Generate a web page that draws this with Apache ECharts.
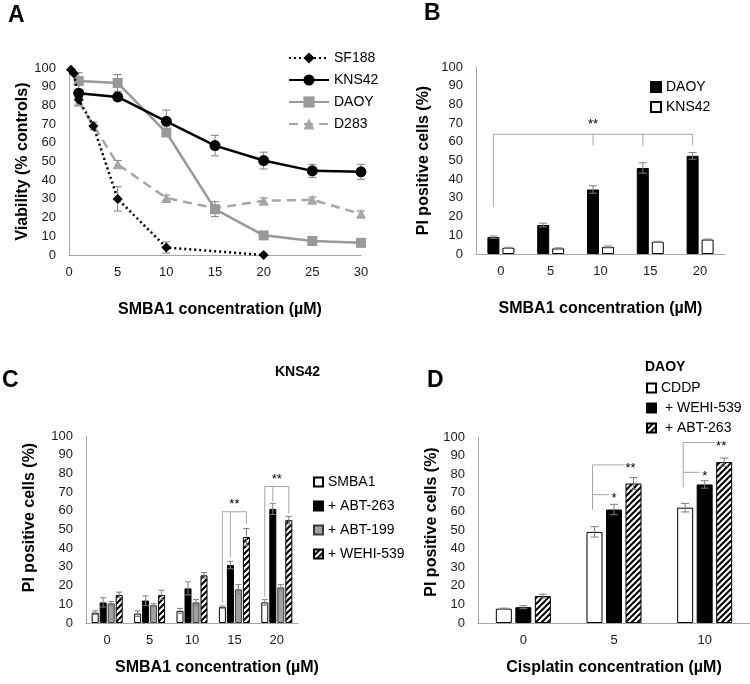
<!DOCTYPE html>
<html><head><meta charset="utf-8">
<script src="https://cdn.jsdelivr.net/npm/echarts@6/dist/echarts.min.js"></script>
<style>html,body{margin:0;padding:0;background:#fff;}.p{position:absolute;left:0;top:0;width:750px;height:684px;}</style>
</head><body>
<div id="ca" class="p"></div><div id="cb" class="p"></div><div id="cc" class="p"></div><div id="cd" class="p"></div>
<script>
// ---------- Panel A data ----------
const aSF188X = [0.2, 0.5, 1, 2.5, 5, 10, 20];
const aSF188Y = [99, 97, 83, 69, 30, 4, 0];
const aSF188Err = [0, 0, 0, 2, 6.5, 3, 0];
const aConc = [1, 5, 10, 15, 20, 25, 30];
const aKNS42 = [86.5, 84.5, 71.5, 58.5, 50.5, 45, 44.5];
const aKNS42Err = [1.5, 2, 6, 5.5, 4.5, 3.5, 4];
const aDAOY = [93, 92, 65.5, 24.5, 10.5, 7.5, 6.5];
const aDAOYErr = [4.5, 4.5, 2, 4, 1, 1, 1];
const aD283 = [82, 48.5, 30.5, 25, 29, 29.5, 22];
const aD283Err = [2, 2, 1.5, 1, 1.5, 1.5, 1.5];
// ---------- Panel B data ----------
const bCats = ['0', '5', '10', '15', '20'];
const bDAOY = [9, 15.5, 34.5, 46, 52.5];
const bDAOYErr = [0.6, 1, 2, 2.8, 1.8];
const bKNS42 = [3.3, 3, 3.8, 6.5, 7.7];
const bKNS42Err = [0.3, 0.3, 0.5, 0.3, 0.3];
const bSigFrom = 0, bSigTo = 4, bSigLevel = 64, bSigBase = 25, bSigDropTo = 58;
const bSigDrops = [2, 3, 4];
// ---------- Panel C data ----------
const cCats = ['0', '5', '10', '15', '20'];
const cSMBA1 = [5.5, 5, 6.5, 8.5, 11];
const cSMBA1Err = [1, 1.5, 1.3, 0.6, 1.5];
const cABT263 = [11, 12, 18.5, 31, 61];
const cABT263Err = [2.5, 2.5, 3.5, 2, 3];
const cABT199 = [10.5, 9.5, 11, 18, 19];
const cABT199Err = [1, 0.8, 1.5, 2.5, 1.5];
const cWEHI539 = [15, 15, 25.5, 46, 55];
const cWEHI539Err = [1.5, 2.5, 1.5, 4.5, 2];
const cSigCats = [3, 4];
const cSigLevel = [59.5, 73];
const cSigBase = [11, 14];
const cSigMid = [35, 65];
const cSigRight = [53, 58.5];
// ---------- Panel D data ----------
const dCats = ['0', '5', '10'];
const dCDDP = [7.7, 49, 62];
const dCDDPErr = [0.3, 2.8, 2.3];
const dWEHI539 = [8.5, 61, 74.5];
const dWEHI539Err = [0.8, 2.8, 2];
const dABT263 = [14.5, 75, 86.5];
const dABT263Err = [1, 3.2, 2.2];
const dSigCats = [1, 2];
const dSigBase = [61, 73];
const dSigMid = [69, 81];
const dSigTop = [85, 97];

const FONT = '"Liberation Sans", Arial, sans-serif';
const AX = '#a6a6a6', ERR = '#7f7f7f', BR = '#a6a6a6', TXT = '#1a1a1a';

function hatch() {
  const c = document.createElement('canvas'); c.width = 6; c.height = 6;
  const g = c.getContext('2d'); g.fillStyle = '#fff'; g.fillRect(0, 0, 6, 6);
  g.strokeStyle = '#000'; g.lineWidth = 2; g.beginPath();
  g.moveTo(-1, 7); g.lineTo(7, -1);
  g.moveTo(-4, 4); g.lineTo(4, -4);
  g.moveTo(2, 10); g.lineTo(10, 2);
  g.stroke();
  return c;
}
const HATCH = { image: hatch(), repeat: 'repeat' };

function offsets(n, w, g) { const a = []; for (let i = 0; i < n; i++) a.push((i - (n - 1) / 2) * (w + g)); return a; }

function valueY(name, gap, pad) {
  return { type: 'value', min: 0, max: 100, interval: 10,
    axisLine: { show: true, lineStyle: { color: AX, width: 1 } }, axisTick: { show: false }, splitLine: { show: false },
    axisLabel: { fontSize: 13, color: TXT, margin: 13, fontFamily: FONT },
    name: name, nameLocation: 'middle', nameGap: gap,
    nameTextStyle: { fontSize: 16, fontWeight: 'bold', color: '#000', fontFamily: FONT, padding: pad || 0 } };
}
function catX(cats, name, gap, pad) {
  return { type: 'category', data: cats,
    axisLine: { show: true, lineStyle: { color: AX, width: 1 } }, axisTick: { show: false }, splitLine: { show: false },
    axisLabel: { fontSize: 13, color: TXT, margin: 11, fontFamily: FONT },
    name: name, nameLocation: 'middle', nameGap: gap,
    nameTextStyle: { fontSize: 16, fontWeight: 'bold', color: '#000', fontFamily: FONT, padding: pad || 0 } };
}
function letter(t, l, tp) {
  return { text: t, left: l, top: tp, padding: 0, textStyle: { fontSize: 23, fontWeight: 'bold', color: '#000', fontFamily: FONT } };
}
function barErr(rows, offs, cap) {
  const data = [];
  rows.forEach(function (r) { r[1].forEach(function (v, i) { data.push([i, v, r[2][i], r[0]]); }); });
  return { type: 'custom', z: 10, silent: true, clip: false, encode: { x: 0, y: 1 }, data: data,
    renderItem: function (p, api) {
      const i = api.value(0), v = api.value(1), e = api.value(2), k = api.value(3);
      const t = api.coord([i, v + e]), b = api.coord([i, v - e]);
      const x = t[0] + offs[k];
      const s = { stroke: ERR, lineWidth: 1 };
      return { type: 'group', children: [
        { type: 'line', shape: { x1: x, y1: t[1], x2: x, y2: b[1] }, style: s },
        { type: 'line', shape: { x1: x - cap, y1: t[1], x2: x + cap, y2: t[1] }, style: s },
        { type: 'line', shape: { x1: x - cap, y1: b[1], x2: x + cap, y2: b[1] }, style: s }] };
    } };
}
function ln(x1, y1, x2, y2) { return { type: 'line', shape: { x1: x1, y1: y1, x2: x2, y2: y2 }, style: { stroke: BR, lineWidth: 1 } }; }
function star(t, x, y, va) { return { type: 'text', style: { text: t, x: x, y: y, textAlign: 'center', textVerticalAlign: va || 'bottom', fontSize: 13, fill: '#000', fontFamily: FONT } }; }
const LEG_TXT = { fontSize: 14, color: '#000', lineHeight: 16, fontFamily: FONT };

// ================= Panel A =================
const cA = echarts.init(document.getElementById('ca'), null, { renderer: 'canvas' });
const aErrData = [];
aSF188X.forEach(function (x, i) { if (aSF188Err[i] > 0) aErrData.push([x, aSF188Y[i], aSF188Err[i]]); });
aConc.forEach(function (x, i) {
  aErrData.push([x, aKNS42[i], aKNS42Err[i]]);
  aErrData.push([x, aDAOY[i], aDAOYErr[i]]);
  aErrData.push([x, aD283[i], aD283Err[i]]);
});
function pairs(xs, ys) { return xs.map(function (x, i) { return [x, ys[i]]; }); }
cA.setOption({
  animation: false, backgroundColor: 'transparent', textStyle: { fontFamily: FONT },
  title: [letter('A', 8, 4)],
  legend: { orient: 'vertical', left: 288, top: 50, padding: 0, itemWidth: 40, itemHeight: 14, itemGap: 6,
    textStyle: LEG_TXT, data: ['SF188', 'KNS42', 'DAOY', 'D283'] },
  grid: { left: 69, top: 68, width: 292, height: 187 },
  xAxis: { type: 'value', min: 0, max: 30, interval: 5,
    axisLine: { show: true, lineStyle: { color: AX } }, axisTick: { show: false }, splitLine: { show: false },
    axisLabel: { fontSize: 13, color: TXT, margin: 11, fontFamily: FONT },
    name: 'SMBA1 concentration (µM)', nameLocation: 'middle', nameGap: 47,
    nameTextStyle: { fontSize: 16, fontWeight: 'bold', color: '#000', fontFamily: FONT, padding: [0, 0, 0, 10] } },
  yAxis: valueY('Viability (% controls)', 31),
  series: [
    { type: 'custom', z: 1, silent: true, clip: false, encode: { x: 0, y: 1 }, data: aErrData,
      renderItem: function (p, api) {
        const x = api.value(0), v = api.value(1), e = api.value(2);
        const t = api.coord([x, v + e]), b = api.coord([x, v - e]);
        const s = { stroke: ERR, lineWidth: 1 }, c = 4;
        return { type: 'group', children: [
          { type: 'line', shape: { x1: t[0], y1: t[1], x2: t[0], y2: b[1] }, style: s },
          { type: 'line', shape: { x1: t[0] - c, y1: t[1], x2: t[0] + c, y2: t[1] }, style: s },
          { type: 'line', shape: { x1: t[0] - c, y1: b[1], x2: t[0] + c, y2: b[1] }, style: s }] };
      } },
    { name: 'D283', type: 'line', z: 3, data: pairs(aConc, aD283), symbol: 'triangle', symbolSize: 10,
      lineStyle: { color: '#a6a6a6', width: 2.5, type: [9, 6] }, itemStyle: { color: '#a6a6a6' } },
    { name: 'DAOY', type: 'line', z: 4, data: pairs(aConc, aDAOY), symbol: 'rect', symbolSize: 10,
      lineStyle: { color: '#999999', width: 2.5 }, itemStyle: { color: '#999999' } },
    { name: 'KNS42', type: 'line', z: 5, data: pairs(aConc, aKNS42), symbol: 'circle', symbolSize: 11,
      lineStyle: { color: '#000', width: 2.5 }, itemStyle: { color: '#000' } },
    { name: 'SF188', type: 'line', z: 6, data: pairs(aSF188X, aSF188Y), symbol: 'diamond', symbolSize: 10,
      lineStyle: { color: '#000', width: 2.5, type: [2, 3] }, itemStyle: { color: '#000' } }
  ]
});

// ================= Panel B =================
const cB = echarts.init(document.getElementById('cb'));
const bW = 12, bG = 3, bOff = offsets(2, bW, bG);
cB.setOption({
  animation: false, backgroundColor: 'transparent', textStyle: { fontFamily: FONT },
  title: [letter('B', 424, 2)],
  legend: { orient: 'vertical', left: 650, top: 79, padding: 0, itemWidth: 10, itemHeight: 10, itemGap: 4, icon: 'rect',
    textStyle: LEG_TXT, data: ['DAOY', 'KNS42'] },
  grid: { left: 476, top: 67, width: 249, height: 187 },
  xAxis: catX(bCats, 'SMBA1 concentration (µM)', 47),
  yAxis: valueY('PI positive cells (%)', 44),
  series: [
    { name: 'DAOY', type: 'bar', data: bDAOY, barWidth: bW, barGap: (bG / bW * 100) + '%',
      itemStyle: { color: '#000', borderColor: '#000', borderWidth: 1 } },
    { name: 'KNS42', type: 'bar', data: bKNS42, barWidth: bW,
      itemStyle: { color: '#fff', borderColor: '#000', borderWidth: 1 } },
    barErr([[0, bDAOY, bDAOYErr], [1, bKNS42, bKNS42Err]], bOff, 4),
    { type: 'custom', z: 11, silent: true, clip: false, encode: { x: 0, y: 1 }, data: [[bSigFrom, bSigLevel]],
      renderItem: function (p, api) {
        const L = api.coord([bSigFrom, bSigLevel]), R = api.coord([bSigTo, bSigLevel]);
        const x1 = L[0] + bOff[0], x2 = R[0] + bOff[0], y = L[1];
        const ch = [ln(x1, api.coord([bSigFrom, bSigBase])[1], x1, y), ln(x1, y, x2, y)];
        bSigDrops.forEach(function (c) { const x = api.coord([c, 0])[0] + bOff[0]; ch.push(ln(x, y, x, api.coord([c, bSigDropTo])[1])); });
        ch.push(star('**', (x1 + x2) / 2, y - 3));
        return { type: 'group', children: ch };
      } }
  ]
});

// ================= Panel C =================
const cC = echarts.init(document.getElementById('cc'));
const cW = 7, cG = 1, cOff = offsets(4, cW, cG);
cC.setOption({
  animation: false, backgroundColor: 'transparent', textStyle: { fontFamily: FONT },
  title: [letter('C', 2, 369),
    { text: 'KNS42', left: 275, top: 365, padding: 0, textStyle: { fontSize: 14, fontWeight: 'bold', color: '#000', fontFamily: FONT } }],
  legend: { orient: 'vertical', left: 313, top: 474, padding: 0, itemWidth: 9, itemHeight: 9, itemGap: 8, icon: 'rect',
    textStyle: LEG_TXT, data: ['SMBA1', '+ ABT-263', '+ ABT-199', '+ WEHI-539'] },
  grid: { left: 86, top: 436, width: 212, height: 187 },
  xAxis: catX(cCats, 'SMBA1 concentration (µM)', 37, [0, 0, 0, 50]),
  yAxis: valueY('PI positive cells (%)', 48, [0, 0, 0, 24]),
  series: [
    { name: 'SMBA1', type: 'bar', data: cSMBA1, barWidth: cW, barGap: (cG / cW * 100) + '%',
      itemStyle: { color: '#fff', borderColor: '#000', borderWidth: 1 } },
    { name: '+ ABT-263', type: 'bar', data: cABT263, barWidth: cW,
      itemStyle: { color: '#000', borderColor: '#000', borderWidth: 1 } },
    { name: '+ ABT-199', type: 'bar', data: cABT199, barWidth: cW,
      itemStyle: { color: '#a0a0a0', borderColor: '#3a3a3a', borderWidth: 1 } },
    { name: '+ WEHI-539', type: 'bar', data: cWEHI539, barWidth: cW,
      itemStyle: { color: HATCH, borderColor: '#000', borderWidth: 1 } },
    barErr([[0, cSMBA1, cSMBA1Err], [1, cABT263, cABT263Err], [2, cABT199, cABT199Err], [3, cWEHI539, cWEHI539Err]], cOff, 3),
    { type: 'custom', z: 11, silent: true, clip: false, encode: { x: 0, y: 1 },
      data: cSigCats.map(function (c, i) { return [c, cSigLevel[i], cSigBase[i], cSigMid[i], cSigRight[i]]; }),
      renderItem: function (p, api) {
        const c = api.value(0), lv = api.value(1);
        const P = api.coord([c, lv]), y = P[1];
        const xl = P[0] + cOff[0], xm = P[0] + cOff[1], xr = P[0] + cOff[3];
        return { type: 'group', children: [
          ln(xl, api.coord([c, api.value(2)])[1], xl, y), ln(xl, y, xr, y),
          ln(xm, y, xm, api.coord([c, api.value(3)])[1]), ln(xr, y, xr, api.coord([c, api.value(4)])[1]),
          star('**', (xl + xr) / 2, y - 1)] };
      } }
  ]
});

// ================= Panel D =================
const cD = echarts.init(document.getElementById('cd'));
const dW = 16, dG = 3.5, dOff = offsets(3, dW, dG);
cD.setOption({
  animation: false, backgroundColor: 'transparent', textStyle: { fontFamily: FONT },
  title: [letter('D', 427, 369),
    { text: 'DAOY', left: 645, top: 360, padding: 0, textStyle: { fontSize: 14, fontWeight: 'bold', color: '#000', fontFamily: FONT } }],
  legend: { orient: 'vertical', left: 646, top: 380, padding: 0, itemWidth: 9, itemHeight: 9, itemGap: 4, icon: 'rect',
    textStyle: LEG_TXT, data: ['CDDP', ' + WEHI-539', ' + ABT-263'] },
  grid: { left: 478, top: 437, width: 272, height: 186 },
  xAxis: catX(dCats, 'Cisplatin concentration (µM)', 37),
  yAxis: valueY('PI positive cells (%)', 37, [0, 0, 0, 16]),
  series: [
    { name: 'CDDP', type: 'bar', data: dCDDP, barWidth: dW, barGap: (dG / dW * 100) + '%',
      itemStyle: { color: '#fff', borderColor: '#000', borderWidth: 1 } },
    { name: ' + WEHI-539', type: 'bar', data: dWEHI539, barWidth: dW,
      itemStyle: { color: '#000', borderColor: '#000', borderWidth: 1 } },
    { name: ' + ABT-263', type: 'bar', data: dABT263, barWidth: dW,
      itemStyle: { color: HATCH, borderColor: '#000', borderWidth: 1 } },
    barErr([[0, dCDDP, dCDDPErr], [1, dWEHI539, dWEHI539Err], [2, dABT263, dABT263Err]], dOff, 4),
    { type: 'custom', z: 11, silent: true, clip: false, encode: { x: 0, y: 1 },
      data: dSigCats.map(function (c, i) { return [c, dSigTop[i], dSigBase[i], dSigMid[i]]; }),
      renderItem: function (p, api) {
        const c = api.value(0);
        const P = api.coord([c, api.value(1)]), yt = P[1];
        const yb = api.coord([c, api.value(2)])[1], ym = api.coord([c, api.value(3)])[1];
        const x0 = P[0] + dOff[0] - 2, x1 = P[0] + dOff[1], x2 = P[0] + dOff[2];
        return { type: 'group', children: [
          ln(x0, yb, x0, yt), ln(x0, yt, x2 - 9, yt), ln(x0, ym, x1 - 5, ym),
          star('**', x2 - 3, yt + 4, 'middle'), star('*', x1, ym + 4, 'middle')] };
      } }
  ]
});
</script></body></html>
